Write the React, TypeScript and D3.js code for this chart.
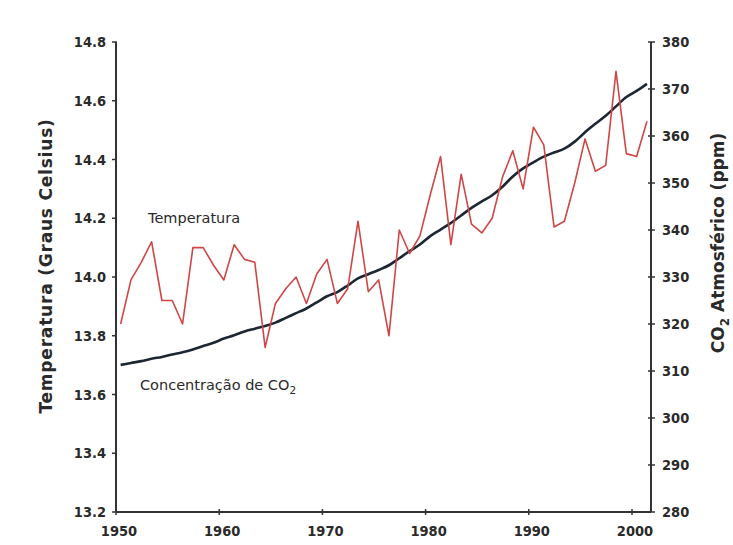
import React from "react";
import * as d3 from "d3";

// Annual series, 1950–2001
const years = [
  1950, 1951, 1952, 1953, 1954, 1955, 1956, 1957, 1958, 1959,
  1960, 1961, 1962, 1963, 1964, 1965, 1966, 1967, 1968, 1969,
  1970, 1971, 1972, 1973, 1974, 1975, 1976, 1977, 1978, 1979,
  1980, 1981, 1982, 1983, 1984, 1985, 1986, 1987, 1988, 1989,
  1990, 1991, 1992, 1993, 1994, 1995, 1996, 1997, 1998, 1999,
  2000, 2001,
];

// Global mean temperature (°C)
const temperature = [
  13.84, 13.99, 14.05, 14.12, 13.92, 13.92, 13.84, 14.1, 14.1, 14.04,
  13.99, 14.11, 14.06, 14.05, 13.76, 13.91, 13.96, 14.0, 13.91, 14.01,
  14.06, 13.91, 13.96, 14.19, 13.95, 13.99, 13.8, 14.16, 14.08, 14.14,
  14.28, 14.41, 14.11, 14.35, 14.18, 14.15, 14.2, 14.34, 14.43, 14.3,
  14.51, 14.45, 14.17, 14.19, 14.32, 14.47, 14.36, 14.38, 14.7, 14.42,
  14.41, 14.53,
];

// Atmospheric CO2 concentration (ppm)
const co2 = [
  311.3, 311.7, 312.1, 312.6, 313.0, 313.5, 314.0, 314.6, 315.3, 316.0,
  316.9, 317.6, 318.4, 319.0, 319.6, 320.3, 321.3, 322.3, 323.3, 324.6,
  325.9, 326.8, 328.2, 329.7, 330.6, 331.5, 332.5, 334.0, 335.5, 336.9,
  338.7, 340.1, 341.5, 343.1, 344.7, 346.1, 347.4, 349.2, 351.4, 353.1,
  354.4, 355.6, 356.5, 357.3, 358.8, 360.8, 362.6, 364.3, 366.3, 368.3,
  369.6, 371.1,
];

const xTicks = [1950, 1960, 1970, 1980, 1990, 2000];
const tempTicks = [13.2, 13.4, 13.6, 13.8, 14.0, 14.2, 14.4, 14.6, 14.8];
const co2Ticks = [280, 290, 300, 310, 320, 330, 340, 350, 360, 370, 380];

const W = 733;
const H = 545;
const plotLeft = 116;
const plotRight = 651;
const plotTop = 42;
const plotBottom = 512;

const x = d3.scaleLinear().domain([1950, 2000]).range([plotLeft, 632]);
const yT = d3.scaleLinear().domain([13.2, 14.8]).range([plotBottom, plotTop]);
const yC = d3.scaleLinear().domain([280, 380]).range([plotBottom, plotTop]);

// yearly values are plotted at mid-year
const xYear = (y: number) => x(y + 0.45);

const tempLine = d3
  .line<number>()
  .x((_, i) => xYear(years[i]))
  .y((d) => yT(d));

const co2Line = d3
  .line<number>()
  .x((_, i) => xYear(years[i]))
  .y((d) => yC(d))
  .curve(d3.curveMonotoneX);

const axisColor = "#333";
const textColor = "#2a2a2a";
const tickFont = "'DejaVu Sans Condensed', 'DejaVu Sans', sans-serif";
const titleFont = "'DejaVu Sans', sans-serif";

export default function App() {
  const fmtT = d3.format(".1f");
  return (
    <svg
      width={W}
      height={H}
      viewBox={`0 0 ${W} ${H}`}
      style={{ position: "absolute", left: 0, top: 0, background: "#fff" }}
    >
      <rect x={0} y={0} width={W} height={H} fill="#fff" />

      {/* CO2 curve */}
      <path
        d={co2Line(co2) || ""}
        fill="none"
        stroke="#1d2733"
        strokeWidth={2.6}
        strokeLinejoin="round"
      />
      {/* temperature curve */}
      <path
        d={tempLine(temperature) || ""}
        fill="none"
        stroke="#d04646"
        strokeWidth={1.6}
        strokeLinejoin="round"
      />

      {/* left axis */}
      <line x1={plotLeft} x2={plotLeft} y1={plotTop} y2={plotBottom} stroke={axisColor} strokeWidth={2} />
      {tempTicks.map((t) => (
        <g key={"t" + t}>
          <line x1={plotLeft - 4} x2={plotLeft + 1} y1={yT(t)} y2={yT(t)} stroke={axisColor} strokeWidth={1.5} />
          <text
            x={106}
            y={yT(t)}
            dy="0.36em"
            textAnchor="end"
            fontFamily={tickFont}
            fontWeight="bold"
            fontSize={14.5}
            fill={textColor}
          >
            {fmtT(t)}
          </text>
        </g>
      ))}

      {/* right axis */}
      <line x1={plotRight} x2={plotRight} y1={plotTop} y2={plotBottom} stroke={axisColor} strokeWidth={2} />
      {co2Ticks.map((c) => (
        <g key={"c" + c}>
          <line x1={plotRight - 3} x2={plotRight + 4} y1={yC(c)} y2={yC(c)} stroke={axisColor} strokeWidth={1.5} />
          <text
            x={662}
            y={yC(c)}
            dy="0.36em"
            textAnchor="start"
            fontFamily={tickFont}
            fontWeight="bold"
            fontSize={14.5}
            fill={textColor}
          >
            {c}
          </text>
        </g>
      ))}

      {/* bottom axis */}
      <line x1={plotLeft} x2={plotRight} y1={plotBottom} y2={plotBottom} stroke={axisColor} strokeWidth={2.2} />
      {xTicks.map((yr) => (
        <g key={"x" + yr}>
          <line x1={x(yr)} x2={x(yr)} y1={plotBottom - 3} y2={plotBottom + 3} stroke={axisColor} strokeWidth={1.5} />
          <text
            x={x(yr) + 3}
            y={536}
            textAnchor="middle"
            fontFamily={tickFont}
            fontWeight="bold"
            fontSize={14.5}
            fill={textColor}
          >
            {yr}
          </text>
        </g>
      ))}

      {/* axis titles */}
      <text
        transform="translate(52,266) rotate(-90)"
        textAnchor="middle"
        fontFamily={titleFont}
        fontWeight="bold"
        fontSize={17}
        letterSpacing={0.8}
        fill={textColor}
      >
        Temperatura (Graus Celsius)
      </text>
      <text
        transform="translate(724,243) rotate(-90)"
        textAnchor="middle"
        fontFamily={titleFont}
        fontWeight="bold"
        fontSize={17}
        fill={textColor}
      >
        CO<tspan fontSize={12} dy={5}>2</tspan>
        <tspan dy={-5}> Atmosférico (ppm)</tspan>
      </text>

      {/* series labels */}
      <text x={148} y={223} fontFamily={titleFont} fontSize={14.5} fill={textColor}>
        Temperatura
      </text>
      <text x={140} y={390} fontFamily={titleFont} fontSize={14.5} fill={textColor}>
        Concentração de CO<tspan fontSize={10.5} dy={4}>2</tspan>
      </text>
    </svg>
  );
}
